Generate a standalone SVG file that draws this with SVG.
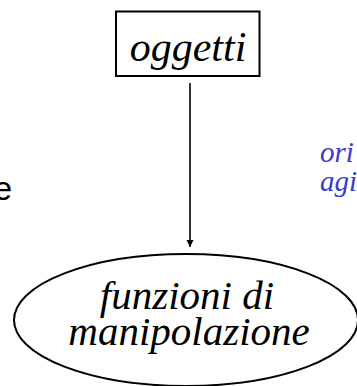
<svg xmlns="http://www.w3.org/2000/svg" width="357" height="386" viewBox="0 0 357 386">
<style>
.ser{font-family:"Liberation Serif","Times New Roman",serif;font-style:italic;}
.node{fill:#fff;stroke:#000;stroke-width:2;}
.conn{stroke:#000;stroke-width:1.6;fill:none;}
.blue{fill:#3a3acc;font-size:29px;}
</style>
<defs>
<marker id="ah" viewBox="0 0 10 10" refX="10" refY="5" markerWidth="7" markerHeight="8" markerUnits="userSpaceOnUse" orient="auto">
<path d="M0,0 L10,5 L0,10 z" fill="#000"/>
</marker>
</defs>
<rect width="357" height="386" fill="#fff"/>
<text x="12" y="200" text-anchor="end" font-family="Liberation Sans, Arial, sans-serif" font-size="33" fill="#000">e</text>
<text class="ser blue" x="320" y="162">ori</text>
<text class="ser blue" x="320" y="191">agi</text>
<g id="connectors">
<line class="conn" x1="190" y1="83" x2="190" y2="247" marker-end="url(#ah)"/>
</g>
<g id="oggetti">
<rect class="node" x="116" y="11.5" width="143.5" height="64.5"/>
<text class="ser" x="188" y="61" font-size="42" text-anchor="middle">oggetti</text>
</g>
<g id="funzioni">
<ellipse class="node" cx="186" cy="320" rx="172" ry="66" stroke-width="1.6"/>
<text class="ser" x="187" y="309" font-size="41" text-anchor="middle">funzioni di</text>
<text class="ser" x="189" y="345" font-size="41" text-anchor="middle">manipolazione</text>
</g>
</svg>
